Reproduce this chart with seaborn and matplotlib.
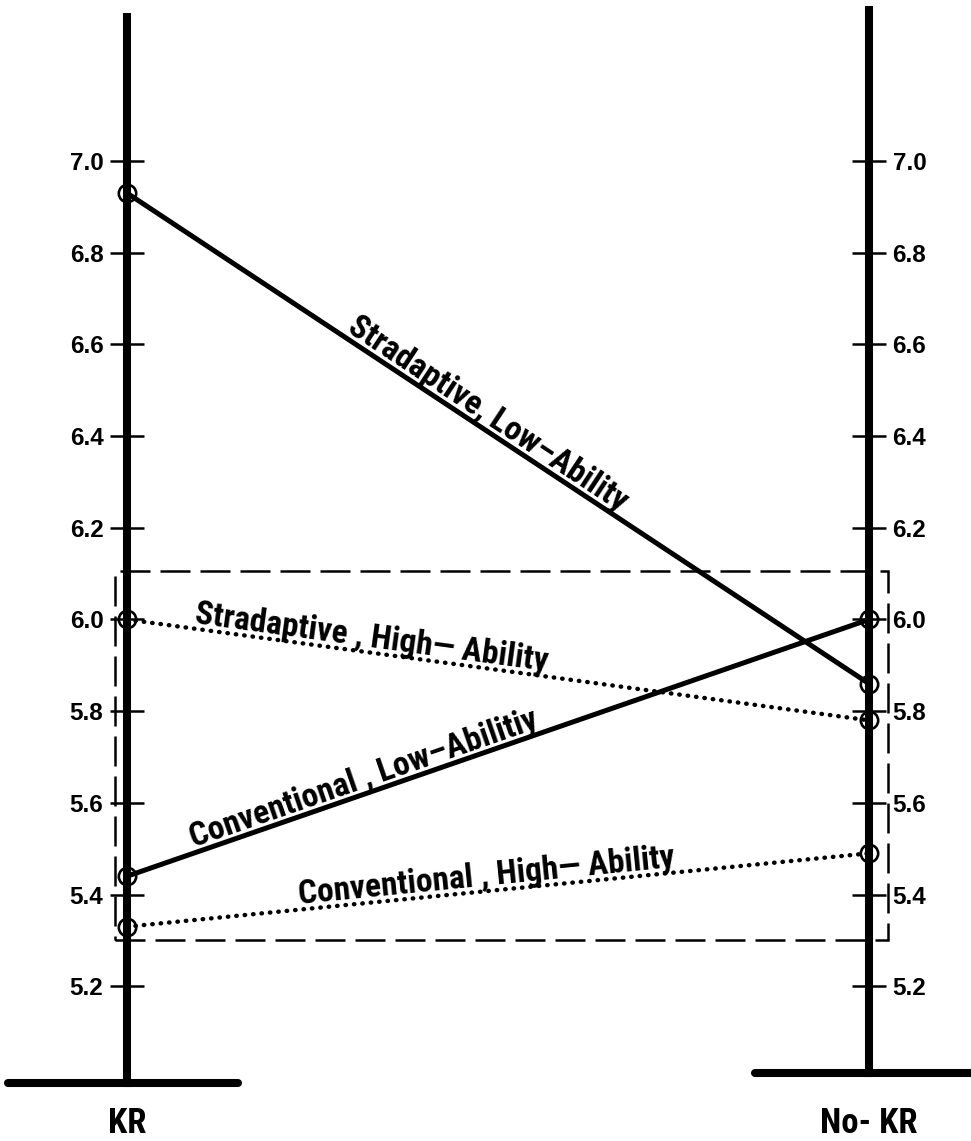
import numpy as np
import pandas as pd
import seaborn as sns
import matplotlib.pyplot as plt
from matplotlib.patches import Rectangle

# ---------------------------------------------------------------------------
# Data
# ---------------------------------------------------------------------------
conditions = ["KR", "No- KR"]
groups = [
    "Stradaptive, Low-Ability",
    "Stradaptive, High-Ability",
    "Conventional, Low-Ability",
    "Conventional, High-Ability",
]
kr_scores = [6.93, 6.00, 5.44, 5.33]
nokr_scores = [5.86, 5.78, 6.00, 5.49]

# labels as they are lettered along the lines (typo kept)
line_labels = [
    "Stradaptive, Low\u2013Ability",
    "Stradaptive , High\u2014 Ability",
    "Conventional , Low\u2013Abilitiy",
    "Conventional , High\u2014 Ability",
]
label_frac = [0.476, 0.327, 0.325, 0.487]   # where the label sits along its line
line_styles = ["solid", "dotted", "solid", "dotted"]

y_ticks = [5.2, 5.4, 5.6, 5.8, 6.0, 6.2, 6.4, 6.6, 6.8, 7.0]
box_top, box_bottom = 6.105, 5.30

rows = []
for g, k, n in zip(groups, kr_scores, nokr_scores):
    rows.append({"group": g, "condition": conditions[0], "score": k})
    rows.append({"group": g, "condition": conditions[1], "score": n})
df = pd.DataFrame(rows)

# ---------------------------------------------------------------------------
# Style
# ---------------------------------------------------------------------------
sns.set_theme(style="white")
plt.rcParams['font.family'] = ['Liberation Sans', 'DejaVu Sans']
plt.rcParams['text.color'] = 'black'
plt.rcParams['xtick.color'] = 'black'
plt.rcParams['ytick.color'] = 'black'
NARROW = ['Roboto Condensed', 'Liberation Sans Narrow', 'DejaVu Sans']

fig = plt.figure(figsize=(9.71, 11.41), dpi=100)
ax = fig.add_axes([0, 51 / 1141, 1, 1090 / 1141])
ax.set_xlim(-0.1712, 1.1375)
ax.set_ylim(4.9738, 7.3511)

# ---------------------------------------------------------------------------
# Lines
# ---------------------------------------------------------------------------
for g, ls in zip(groups, line_styles):
    sub = df[df["group"] == g]
    kw = dict(lw=3.6, linestyle="-")
    if ls == "dotted":
        kw = dict(lw=3.2, linestyle=(0, (0.1, 1.8)), dash_capstyle="round")
    sns.lineplot(data=sub, x="condition", y="score", color="black",
                 marker="o", ms=12.5, mfc="none", mec="black", mew=1.9,
                 sort=False, estimator=None, ax=ax, zorder=3, **kw)

# dashed box around the lower cluster
ax.add_patch(Rectangle((-0.0162, box_bottom), 1.0418, box_top - box_bottom,
                       fill=False, ec="black", lw=1.8, ls=(0, (12, 4)), zorder=2))

# ---------------------------------------------------------------------------
# Two vertical scales drawn as spines
# ---------------------------------------------------------------------------
for side, pos, lo, hi in [("left", 0, 4.989, 7.314), ("right", 1, 5.011, 7.33)]:
    sp = ax.spines[side]
    sp.set_visible(True)
    sp.set_position(("data", pos))
    sp.set_linewidth(5.8)
    sp.set_color("black")
    sp.set_bounds(lo, hi)
ax.spines["top"].set_visible(False)
ax.spines["bottom"].set_visible(False)

# feet at the bottom of each scale
ax.hlines(4.989, -0.1604, 0.1496, color="black", lw=5.8, capstyle="round", clip_on=False)
ax.hlines(5.011, 0.8464, 1.16, color="black", lw=5.8, capstyle="round", clip_on=False)

ax.yaxis.set_ticks_position("both")
ax.set_yticks(y_ticks)
ax.set_yticklabels([f"{v:.1f}" for v in y_ticks])
ax.tick_params(axis="y", direction="inout", length=24, width=1.8,
               labelleft=True, labelright=True, labelsize=17.5, pad=5)
for lbl in ax.get_yticklabels():
    lbl.set_fontweight("bold")

ax.set_xticks([0, 1])
ax.set_xticklabels(conditions)
ax.tick_params(axis="x", length=0, pad=12)
for lbl in ax.get_xticklabels():
    lbl.set_fontfamily(NARROW)
    lbl.set_fontweight("bold")
    lbl.set_fontsize(25)

ax.set_xlabel("")
ax.set_ylabel("")
ax.grid(False)

# ---------------------------------------------------------------------------
# Labels lettered along each line
# ---------------------------------------------------------------------------
for lab, t, k, n in zip(line_labels, label_frac, kr_scores, nokr_scores):
    p0 = ax.transData.transform((0, k))
    p1 = ax.transData.transform((1, n))
    ang = np.degrees(np.arctan2(p1[1] - p0[1], p1[0] - p0[0]))
    d = 4
    off = (-np.sin(np.radians(ang)) * d, np.cos(np.radians(ang)) * d)
    ax.annotate(lab, (t, k + t * (n - k)), xytext=off, textcoords="offset points",
                ha="center", va="baseline", rotation=ang, rotation_mode="anchor",
                fontsize=24, family=NARROW, fontweight="bold")

fig.savefig("out.png", dpi=100)
